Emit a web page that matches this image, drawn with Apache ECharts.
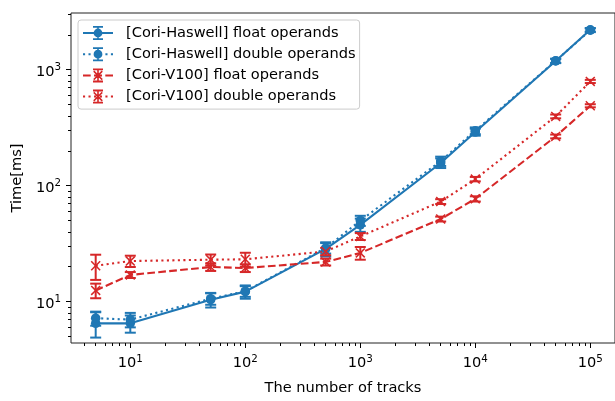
<!DOCTYPE html>
<html><head><meta charset="utf-8">
<script src="https://cdn.jsdelivr.net/npm/echarts@6/dist/echarts.min.js"></script>
<style>html,body{margin:0;padding:0;background:#fff}#c{width:615px;height:401px}</style>
</head><body><div id="c"></div>
<script>
// ---- data ----
const tracks = [5, 10, 50, 100, 500, 1000, 5000, 10000, 50000, 100000];
const haswellFloat     = [6.5, 6.5, 10.4, 12.2, 28.5, 46, 157, 290, 1190, 2210];
const haswellFloatErr  = [1.6, 1.1, 1.5, 1.6, 4, 6, 15, 20, 50, 80];
const haswellDouble    = [7.2, 7.0, 10.6, 12.3, 29, 50, 163, 298, 1195, 2190];
const haswellDoubleErr = [1.0, 1.0, 1.2, 1.3, 3, 5, 15, 20, 50, 80];
const v100Float        = [12.5, 17.0, 19.9, 19.5, 22.0, 26.3, 51.6, 77, 266, 489];
const v100FloatErr     = [1.8, 1.0, 1.5, 1.5, 1.5, 3.3, 2.5, 4, 10, 15];
const v100Double       = [20.4, 22.4, 23.0, 23.2, 27.1, 36.5, 73, 114, 396, 793];
const v100DoubleErr    = [5.0, 2.5, 2.5, 3.2, 2.0, 2.5, 3.5, 5, 15, 25];
const seriesNames = ['[Cori-Haswell] float operands', '[Cori-Haswell] double operands',
                     '[Cori-V100] float operands', '[Cori-V100] double operands'];
const xMajorTicks = [10, 100, 1000, 10000, 100000];
const yMajorTicks = [10, 100, 1000];
const xRange = [3.05, 164000];
const yRange = [4.4, 3085];

// ---- helpers (styling) ----
const BLUE = '#1f77b4', RED = '#d62728';
function minorTicks(lo, hi) {
  const out = [];
  for (let e = -1; e <= 6; e++) for (let m = 2; m <= 9; m++) {
    const v = m * Math.pow(10, e);
    if (v >= lo && v <= hi) out.push(v);
  }
  return out;
}
function rect(x0, y0, x1, y1) { return `M${x0} ${y0}L${x1} ${y0}L${x1} ${y1}L${x0} ${y1}Z`; }
function circ(cx, cy, r) { return `M${cx + r} ${cy}A${r} ${r} 0 1 1 ${cx - r} ${cy}A${r} ${r} 0 1 1 ${cx + r} ${cy}Z`; }
function xShape(cx, cy, a, d) {
  const p = [[-a, -a + d], [-a + d, -a], [0, -d], [a - d, -a], [a, -a + d], [d, 0], [a, a - d], [a - d, a], [0, d], [-a + d, a], [-a, a - d], [-d, 0]];
  return 'M' + p.map(q => (cx + q[0]).toFixed(2) + ' ' + (cy + q[1]).toFixed(2)).join('L') + 'Z';
}
function dashLine(on, off, W, cy, t) {
  if (!on) return rect(0, cy - t / 2, W, cy + t / 2);
  let s = '';
  let x = 0;
  const half = W / 2;
  while (x < half) {
    const x1 = Math.min(x + on, half);
    s += rect(x, cy - t / 2, x1, cy + t / 2) + rect(W - x1, cy - t / 2, W - x, cy + t / 2);
    x += on + off;
  }
  return s;
}
const LW = 30, LH = 14;
function legendIcon(dash, marker) {
  let s = dashLine(dash ? dash[0] : 0, dash ? dash[1] : 0, LW, LH / 2, 2);
  s += rect(14.2, 0, 15.8, LH) + rect(10, 0, 20, 1.8) + rect(10, LH - 1.8, 20, LH);
  s += marker === 'o' ? circ(15, 7, 4.4) : xShape(15, 7, 4.8, 1.1);
  return 'path://' + s;
}
const X_SYMBOL = 'path://' + xShape(5, 5, 5, 1.1);
const DOT = [2.1, 3.4], DASH = [7.7, 3.3];

function lineSeries(name, vals, color, dash, marker) {
  return {
    name, type: 'line', xAxisIndex: 0, yAxisIndex: 0,
    data: tracks.map((t, i) => [t, vals[i]]),
    symbol: marker === 'o' ? 'circle' : X_SYMBOL,
    symbolSize: marker === 'o' ? 9.5 : 10,
    showSymbol: true,
    lineStyle: { color, width: 2.1, type: dash || 'solid' },
    itemStyle: { color, borderWidth: 0 },
    z: 3
  };
}
function errSeries(vals, errs, color) {
  return {
    type: 'custom', xAxisIndex: 0, yAxisIndex: 0, z: 2, clip: false,
    encode: { x: 0, y: 1 },
    data: tracks.map((t, i) => [t, vals[i], errs[i]]),
    renderItem: function (params, api) {
      const x = api.value(0), y = api.value(1), e = api.value(2);
      const top = api.coord([x, y + e]), bot = api.coord([x, y - e]);
      const h = 5.5, st = { stroke: color, lineWidth: 2 };
      return { type: 'group', children: [
        { type: 'line', shape: { x1: top[0], y1: top[1], x2: bot[0], y2: bot[1] }, style: st },
        { type: 'line', shape: { x1: top[0] - h, y1: top[1], x2: top[0] + h, y2: top[1] }, style: st },
        { type: 'line', shape: { x1: bot[0] - h, y1: bot[1], x2: bot[0] + h, y2: bot[1] }, style: st }
      ] };
    }
  };
}
const FONT = 'DejaVu Sans';
const FS = 14.6;
const richLbl = {
  b: { fontFamily: FONT, fontSize: FS, color: '#000', verticalAlign: 'bottom', lineHeight: 20 },
  s: { fontFamily: FONT, fontSize: 10.3, color: '#000', verticalAlign: 'bottom', lineHeight: 20, padding: [0, 0, 7, 0] }
};
function powFmt(v) { return '{b|10}{s|' + Math.round(Math.log10(v)) + '}'; }
const tickLine = { color: '#000', width: 1 };

const chart = echarts.init(document.getElementById('c'), null, { renderer: 'canvas' });
chart.setOption({
  animation: false,
  backgroundColor: '#fff',
  grid: { left: 71, top: 13, right: 0, bottom: 58, show: true, borderColor: '#222', borderWidth: 1, backgroundColor: 'transparent' },
  legend: {
    orient: 'vertical', left: 78, top: 20,
    padding: [5.5, 4, 5, 5],
    itemWidth: LW, itemHeight: LH, itemGap: 6.2,
    backgroundColor: 'rgba(255,255,255,0.8)', borderColor: '#cccccc', borderWidth: 1, borderRadius: 3,
    textStyle: { fontFamily: FONT, fontSize: FS, color: '#000', lineHeight: 14, padding: [0, 0, 0, 8] },
    itemStyle: { borderWidth: 0 },
    data: [
      { name: seriesNames[0], icon: legendIcon(null, 'o') },
      { name: seriesNames[1], icon: legendIcon(DOT, 'o') },
      { name: seriesNames[2], icon: legendIcon(DASH, 'x') },
      { name: seriesNames[3], icon: legendIcon(DOT, 'x') }
    ]
  },
  xAxis: [
    {
      type: 'log', logBase: 10, min: xRange[0], max: xRange[1], position: 'bottom',
      axisLine: { show: false }, splitLine: { show: false },
      axisTick: { show: true, customValues: xMajorTicks, length: 5, lineStyle: tickLine },
      axisLabel: { customValues: xMajorTicks, formatter: powFmt, rich: richLbl, margin: 8 },
      name: 'The number of tracks', nameLocation: 'middle', nameGap: 38,
      nameTextStyle: { fontFamily: FONT, fontSize: FS, color: '#000' }
    },
    {
      type: 'log', logBase: 10, min: xRange[0], max: xRange[1], position: 'bottom',
      axisLine: { show: false }, splitLine: { show: false }, axisLabel: { show: false },
      axisTick: { show: true, customValues: minorTicks(xRange[0], xRange[1]), length: 3, lineStyle: tickLine }
    }
  ],
  yAxis: [
    {
      type: 'log', logBase: 10, min: yRange[0], max: yRange[1], position: 'left',
      axisLine: { show: false }, splitLine: { show: false },
      axisTick: { show: true, customValues: yMajorTicks, length: 5, lineStyle: tickLine },
      axisLabel: { customValues: yMajorTicks, formatter: powFmt, rich: richLbl, margin: 10 },
      name: 'Time[ms]', nameLocation: 'middle', nameGap: 44, nameRotate: 90,
      nameTextStyle: { fontFamily: FONT, fontSize: FS, color: '#000' }
    },
    {
      type: 'log', logBase: 10, min: yRange[0], max: yRange[1], position: 'left',
      axisLine: { show: false }, splitLine: { show: false }, axisLabel: { show: false },
      axisTick: { show: true, customValues: minorTicks(yRange[0], yRange[1]), length: 3, lineStyle: tickLine }
    }
  ],
  series: [
    errSeries(haswellFloat, haswellFloatErr, BLUE),
    lineSeries(seriesNames[0], haswellFloat, BLUE, null, 'o'),
    errSeries(haswellDouble, haswellDoubleErr, BLUE),
    lineSeries(seriesNames[1], haswellDouble, BLUE, DOT, 'o'),
    errSeries(v100Float, v100FloatErr, RED),
    lineSeries(seriesNames[2], v100Float, RED, DASH, 'x'),
    errSeries(v100Double, v100DoubleErr, RED),
    lineSeries(seriesNames[3], v100Double, RED, DOT, 'x')
  ]
});
</script></body></html>
